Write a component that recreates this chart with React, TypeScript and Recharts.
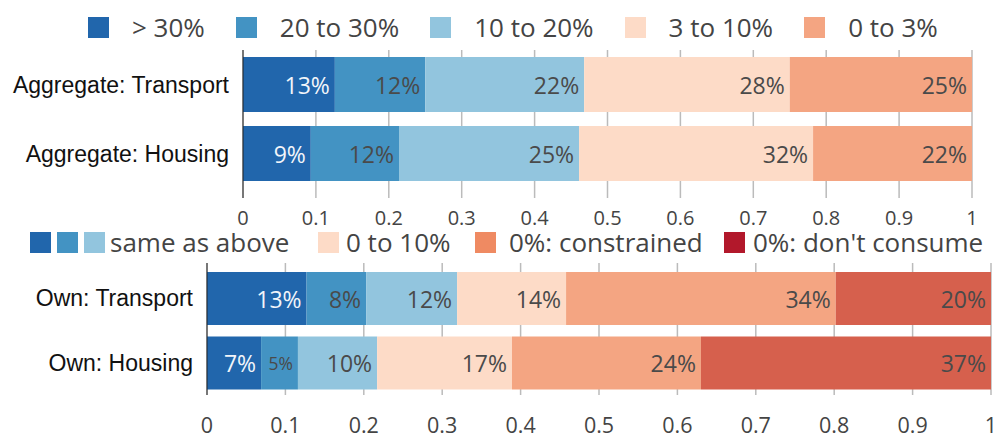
import React from 'react';
import { BarChart, Bar, XAxis, YAxis, CartesianGrid, LabelList } from 'recharts';

// aggregate (top) chart
const topCategories = ['Aggregate: Transport', 'Aggregate: Housing'];
const topSeries = ['> 30%', '20 to 30%', '10 to 20%', '3 to 10%', '0 to 3%'];
const aggTransport = [0.126, 0.124, 0.218, 0.282, 0.25];
const aggHousing = [0.093, 0.121, 0.247, 0.321, 0.218];

// own (bottom) chart
const bottomCategories = ['Own: Transport', 'Own: Housing'];
const bottomSeries = ['> 30%', '20 to 30%', '10 to 20%', '0 to 10%', '0%: constrained', "0%: don't consume"];
const ownTransport = [0.127, 0.076, 0.116, 0.139, 0.344, 0.198];
const ownHousing = [0.069, 0.047, 0.101, 0.172, 0.241, 0.37];

const xTicks = [0, 0.1, 0.2, 0.3, 0.4, 0.5, 0.6, 0.7, 0.8, 0.9, 1];

const topColors = ['#2166ac', '#4393c3', '#92c5de', '#fddbc7', '#f4a582'];
const bottomColors = ['#2166ac', '#4393c3', '#92c5de', '#fddbc7', '#f4a582', '#d6604d'];
const bottomLegendColors = ['#fddbc7', '#ef8a62', '#b2182b'];

const sans = '"Open Sans", "Noto Sans", sans-serif';
const arial = '"Liberation Sans", Arial, sans-serif';

const buildRows = (cats: string[], rows: number[][]) =>
  cats.map((name, i) => {
    const row: Record<string, any> = { name };
    rows[i].forEach((v, k) => (row['s' + k] = v));
    return row;
  });

const topData = buildRows(topCategories, [aggTransport, aggHousing]);
const bottomData = buildRows(bottomCategories, [ownTransport, ownHousing]);

const fmtTick = (v: number) => (v === 0 ? '0' : v === 1 ? '1' : v.toFixed(1));

const segLabel = (rows: number[][], k: number, fill: string) => (p: any) => {
  const v = rows[p.index]?.[k];
  if (v == null) return null;
  const txt = Math.round(v * 100) + '%';
  const em = txt.length === 2 ? 1.42 : 1.99;
  const fs = Math.min(23, (p.width - 12) / em);
  return (
    <text
      x={p.x + p.width - 5}
      y={p.y + p.height / 2}
      textAnchor="end"
      dominantBaseline="central"
      fontFamily={sans}
      fontSize={fs}
      fill={fill}
    >
      {txt}
    </text>
  );
};

const Square = ({ color }: { color: string }) => (
  <span style={{ display: 'inline-block', width: 21, height: 21, background: color }} />
);

const legendText: React.CSSProperties = { fontFamily: sans, fontSize: 26, color: '#444', lineHeight: '21px' };

const App = () => {
  const topRows = [aggTransport, aggHousing];
  const bottomRows = [ownTransport, ownHousing];

  return (
    <div style={{ position: 'absolute', left: 0, top: 0, width: 997, height: 436, background: '#fff', overflow: 'hidden' }}>
      {/* top legend */}
      <div style={{ position: 'absolute', left: 88, top: 17, display: 'flex', alignItems: 'center' }}>
        {topSeries.map((s, i) => (
          <div key={s} style={{ display: 'flex', alignItems: 'center', marginRight: 31 }}>
            <Square color={topColors[i]} />
            <span style={{ ...legendText, marginLeft: 23, whiteSpace: 'nowrap' }}>{s}</span>
          </div>
        ))}
      </div>

      <div style={{ position: 'absolute', left: 0, top: 0 }}>
        <BarChart
          width={997}
          height={236}
          layout="vertical"
          data={topData}
          margin={{ top: 50, right: 25, bottom: 0, left: 8 }}
          barSize={55}
        >
          <CartesianGrid horizontal={false} stroke="#bbb" strokeWidth={1.5} />
          <XAxis
            type="number"
            domain={[0, 1]}
            ticks={xTicks}
            tickFormatter={fmtTick}
            axisLine={false}
            tickLine={false}
            tickSize={0}
            tickMargin={13}
            height={38}
            interval={0}
            tick={{ fontFamily: sans, fontSize: 20, fill: '#444' }}
          />
          <YAxis
            type="category"
            dataKey="name"
            width={235}
            padding={{ top: 0, bottom: 10 }}
            axisLine={{ stroke: '#222' }}
            tickLine={false}
            tickSize={0}
            tickMargin={14}
            tick={{ fontFamily: arial, fontSize: 23, fill: '#111' }}
          />
          {topSeries.map((s, k) => (
            <Bar key={s} dataKey={'s' + k} stackId="a" fill={topColors[k]} isAnimationActive={false}>
              <LabelList content={segLabel(topRows, k, k === 0 ? '#f2f5fa' : '#4a4a4a')} />
            </Bar>
          ))}
        </BarChart>
      </div>

      {/* bottom legend */}
      <div style={{ position: 'absolute', left: 30, top: 232, display: 'flex', alignItems: 'center' }}>
        <Square color={bottomColors[0]} />
        <span style={{ width: 6 }} />
        <Square color={bottomColors[1]} />
        <span style={{ width: 6 }} />
        <Square color={bottomColors[2]} />
        <span style={{ ...legendText, marginLeft: 5 }}>same as above</span>
      </div>
      {bottomSeries.slice(3).map((s, i) => (
        <div
          key={s}
          style={{ position: 'absolute', left: [318, 475, 724][i], top: 232, display: 'flex', alignItems: 'center' }}
        >
          <Square color={bottomLegendColors[i]} />
          <span style={{ ...legendText, marginLeft: [7, 13, 8][i], whiteSpace: 'nowrap' }}>{s}</span>
        </div>
      ))}

      <div style={{ position: 'absolute', left: 0, top: 228 }}>
        <BarChart
          width={997}
          height={208}
          layout="vertical"
          data={bottomData}
          margin={{ top: 35, right: 6, bottom: 0, left: 0 }}
          barSize={53}
        >
          <CartesianGrid horizontal={false} stroke="#bbb" strokeWidth={1.5} />
          <XAxis
            type="number"
            domain={[0, 1]}
            ticks={xTicks}
            tickFormatter={fmtTick}
            axisLine={false}
            tickLine={false}
            tickSize={0}
            tickMargin={23}
            height={41}
            interval={0}
            tick={{ fontFamily: sans, fontSize: 21.5, fill: '#444' }}
          />
          <YAxis
            type="category"
            dataKey="name"
            width={207}
            padding={{ top: 3, bottom: 0 }}
            axisLine={{ stroke: '#222' }}
            tickLine={false}
            tickSize={0}
            tickMargin={14}
            tick={{ fontFamily: arial, fontSize: 23, fill: '#111' }}
          />
          {bottomSeries.map((s, k) => (
            <Bar key={s} dataKey={'s' + k} stackId="a" fill={bottomColors[k]} isAnimationActive={false}>
              <LabelList content={segLabel(bottomRows, k, k === 0 ? '#f2f5fa' : '#4a4a4a')} />
            </Bar>
          ))}
        </BarChart>
      </div>
    </div>
  );
};

export default App;
